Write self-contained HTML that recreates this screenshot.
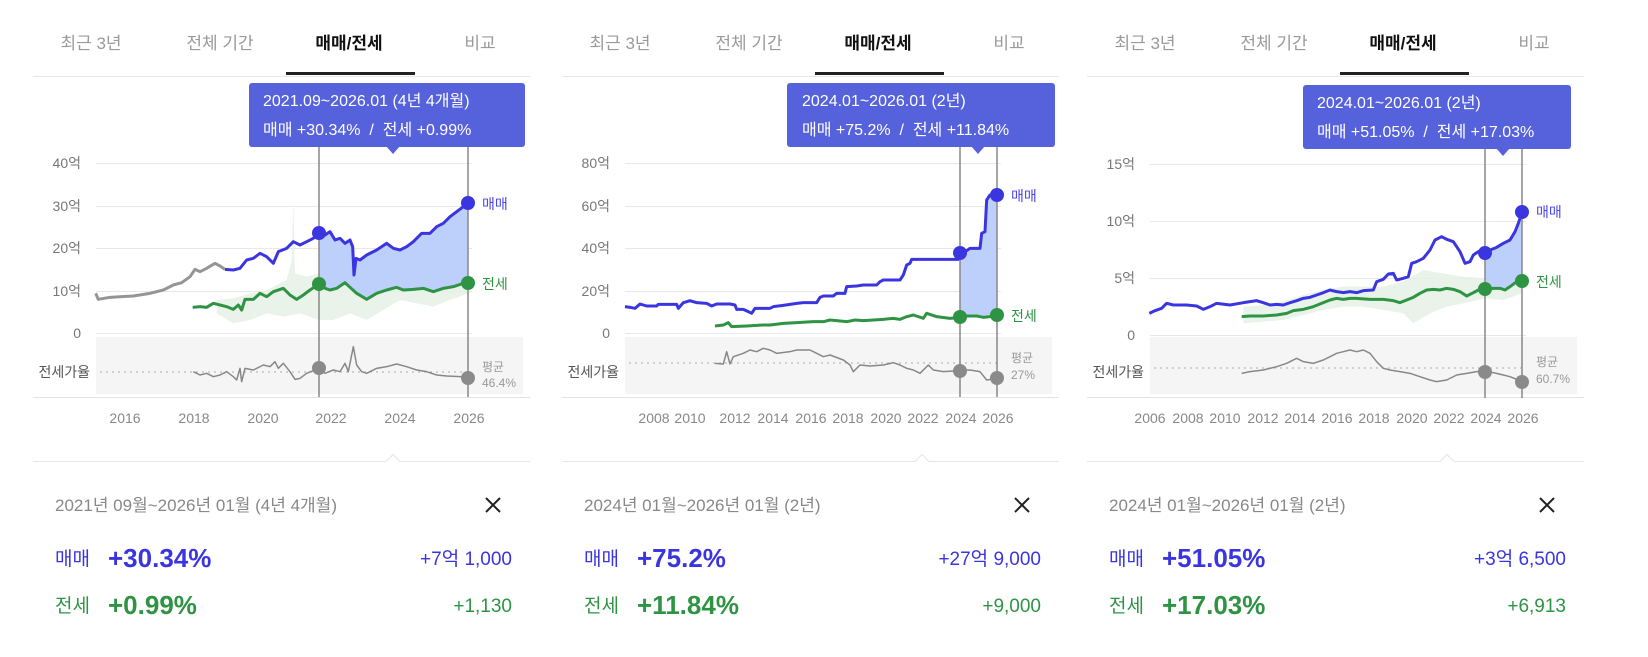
<!DOCTYPE html>
<html><head><meta charset="utf-8"><style>
html,body{margin:0;padding:0;background:#fff;width:1648px;height:657px;overflow:hidden}
svg{display:block;font-family:"Liberation Sans","Noto Sans CJK KR",sans-serif}
</style></head><body>
<svg width="1648" height="657" viewBox="0 0 1648 657" xmlns="http://www.w3.org/2000/svg">
<defs>
<g id="common">
  <g font-size="17" fill="#9a9a9a" text-anchor="middle">
    <text x="91" y="49">최근 3년</text>
    <text x="220" y="49">전체 기간</text>
    <text x="349" y="49" fill="#111" font-weight="bold">매매/전세</text>
    <text x="480" y="49">비교</text>
  </g>
  <rect x="286" y="72" width="129" height="3" fill="#222"/>
  <line x1="33" y1="76.5" x2="530" y2="76.5" stroke="#e6e6e6"/>
  <rect x="96" y="337" width="427" height="57" fill="#f5f5f5"/>
  <line x1="33" y1="397.5" x2="530" y2="397.5" stroke="#e3e3e3"/>
  <polyline points="33,461.5 386,461.5 393,454.5 400,461.5 530,461.5" fill="none" stroke="#e6e6e6"/>
  <g stroke="#222" stroke-width="2"><line x1="486" y1="498" x2="500" y2="512"/><line x1="500" y1="498" x2="486" y2="512"/></g>
  <text x="90" y="377" font-size="14" fill="#555" text-anchor="end">전세가율</text>
</g>
</defs>

<!-- ===== PANEL 1 ===== -->
<g>
  <use href="#common"/>
  <g stroke="#e8e8e8"><line x1="96" y1="163.5" x2="472" y2="163.5"/><line x1="96" y1="206.5" x2="472" y2="206.5"/><line x1="96" y1="248.5" x2="472" y2="248.5"/><line x1="96" y1="291.5" x2="472" y2="291.5"/><line x1="96" y1="333.5" x2="472" y2="333.5"/></g>
  <g font-size="14" fill="#777" text-anchor="end"><text x="81" y="168">40억</text><text x="81" y="211">30억</text><text x="81" y="253">20억</text><text x="81" y="296">10억</text><text x="81" y="338">0</text></g>
  <line x1="100" y1="372" x2="470" y2="372" stroke="#aaa" stroke-dasharray="2,4"/>
  <g font-size="14" fill="#888" text-anchor="middle"><text x="125" y="423">2016</text><text x="194" y="423">2018</text><text x="263" y="423">2020</text><text x="331" y="423">2022</text><text x="400" y="423">2024</text><text x="469" y="423">2026</text></g>
  <g transform="translate(0,60) scale(0.333333)">
    <polygon fill="#e3f0e3" opacity="0.8" points="650,720 700,715 750,700 800,690 860,660 875,600 880,425 885,640 920,650 957,640 1000,640 1050,650 1100,680 1150,665 1200,655 1250,640 1300,620 1350,640 1405,650 1405,700 1350,720 1300,740 1250,730 1200,720 1150,750 1100,780 1050,760 1000,780 957,780 900,760 850,770 800,760 750,780 700,790 650,760"/>
    <polygon fill="#bcd0fb" points="957,518 975,525 990,515 1005,540 1020,535 1035,550 1050,540 1058,560 1062,645 1068,595 1080,600 1100,585 1130,570 1160,550 1180,565 1200,570 1220,560 1240,545 1265,520 1290,520 1310,500 1330,490 1350,470 1370,455 1390,440 1405,430 1405,668 1390,670 1360,680 1330,685 1300,695 1270,685 1240,688 1210,690 1190,682 1160,690 1130,700 1100,718 1070,700 1050,682 1035,668 1010,685 990,690 975,685 957,672"/>
    <polyline fill="none" stroke="#959595" stroke-width="9" stroke-linejoin="round" points="287,700 295,718 330,712 400,708 450,700 490,690 520,675 545,668 570,650 585,628 600,635 620,625 645,610 660,618 675,628"/>
    <polyline fill="none" stroke="#3b35e0" stroke-width="9" stroke-linejoin="round" points="675,628 700,630 720,625 740,600 760,595 780,580 800,590 820,610 835,575 860,565 880,545 900,555 920,545 940,535 957,518 975,525 990,515 1005,540 1020,535 1035,550 1050,540 1058,560 1062,645 1068,595 1080,600 1100,585 1130,570 1160,550 1180,565 1200,570 1220,560 1240,545 1265,520 1290,520 1310,500 1330,490 1350,470 1370,455 1390,440 1405,430"/>
    <polyline fill="none" stroke="#2e9444" stroke-width="9" stroke-linejoin="round" points="578,742 600,740 620,742 640,730 660,735 680,740 700,748 715,735 725,750 735,718 760,718 780,700 800,710 820,695 850,685 870,705 890,718 910,705 930,690 957,672 975,685 990,690 1010,685 1035,668 1050,682 1070,700 1100,718 1130,700 1160,690 1190,682 1210,690 1240,688 1270,685 1300,695 1330,685 1360,680 1390,670 1405,668"/>
    <polyline fill="none" stroke="#888" stroke-width="4.5" stroke-linejoin="round" points="580,935 600,945 620,940 640,950 660,945 680,935 700,950 710,960 720,925 725,965 735,925 760,930 790,915 810,920 825,905 835,925 850,910 870,935 885,958 900,955 920,940 957,925 975,940 1000,930 1020,935 1035,910 1045,935 1060,860 1070,915 1085,935 1100,940 1130,925 1160,920 1190,912 1220,920 1250,930 1280,935 1310,945 1340,948 1380,950 1405,952"/>
  </g>
  <g stroke="#888" stroke-width="1.5"><line x1="319" y1="147" x2="319" y2="397"/><line x1="468" y1="147" x2="468" y2="397"/></g>
  <circle cx="319" cy="233" r="7" fill="#3b35e0"/><circle cx="468" cy="203" r="7" fill="#3b35e0"/>
  <circle cx="319" cy="284" r="7" fill="#2e9444"/><circle cx="468" cy="283" r="7" fill="#2e9444"/>
  <circle cx="319" cy="368" r="7" fill="#8a8a8a"/><circle cx="468" cy="378" r="7" fill="#8a8a8a"/>
  <g font-size="14"><text x="482" y="209" fill="#4a44e6">매매</text><text x="482" y="289" fill="#2e9444">전세</text><text x="482" y="371" fill="#999" font-size="12">평균</text><text x="482" y="387" fill="#999" font-size="12">46.4%</text></g>
  <rect x="249" y="83" width="276" height="64" rx="3" fill="#5661dc"/>
  <polygon points="386,146 400,146 393,154" fill="#5661dc"/>
  <g fill="#fff" font-size="16"><text x="263" y="106">2021.09~2026.01 (4년 4개월)</text><text x="263" y="135">매매 +30.34% &#160;/&#160; 전세 +0.99%</text></g>
  <text x="55" y="511" font-size="17" fill="#888">2021년 09월~2026년 01월 (4년 4개월)</text>
  <text x="55" y="565" font-size="19" fill="#3b35e0">매매</text>
  <text x="108" y="567" font-size="26" font-weight="bold" fill="#3b35e0">+30.34%</text>
  <text x="512" y="565" font-size="19" fill="#3b35e0" text-anchor="end">+7억 1,000</text>
  <text x="55" y="612" font-size="19" fill="#2e9444">전세</text>
  <text x="108" y="614" font-size="26" font-weight="bold" fill="#2e9444">+0.99%</text>
  <text x="512" y="612" font-size="19" fill="#2e9444" text-anchor="end">+1,130</text>
</g>

<!-- ===== PANEL 2 ===== -->
<g transform="translate(529,0)">
  <use href="#common"/>
  <g stroke="#e8e8e8"><line x1="96" y1="163.5" x2="472" y2="163.5"/><line x1="96" y1="206.5" x2="472" y2="206.5"/><line x1="96" y1="248.5" x2="472" y2="248.5"/><line x1="96" y1="291.5" x2="472" y2="291.5"/><line x1="96" y1="333.5" x2="472" y2="333.5"/></g>
  <g font-size="14" fill="#777" text-anchor="end"><text x="81" y="168">80억</text><text x="81" y="211">60억</text><text x="81" y="253">40억</text><text x="81" y="296">20억</text><text x="81" y="338">0</text></g>
  <line x1="100" y1="363" x2="470" y2="363" stroke="#aaa" stroke-dasharray="2,4"/>
  <g font-size="14" fill="#888" text-anchor="middle"><text x="125" y="423">2008</text><text x="161" y="423">2010</text><text x="206" y="423">2012</text><text x="244" y="423">2014</text><text x="282" y="423">2016</text><text x="319" y="423">2018</text><text x="357" y="423">2020</text><text x="394" y="423">2022</text><text x="432" y="423">2024</text><text x="469" y="423">2026</text></g>
  <g transform="translate(1,60) scale(0.333333)">
    <polygon fill="#bcd0fb" points="1290,580 1310,572 1320,565 1350,565 1355,520 1365,515 1370,420 1380,405 1402,405 1402,765 1380,770 1360,772 1340,768 1310,768 1290,772"/>
    <polyline fill="none" stroke="#3b35e0" stroke-width="9" stroke-linejoin="round" points="285,740 300,742 315,745 330,732 350,738 380,738 385,733 440,733 445,745 460,728 480,722 500,728 530,730 545,738 560,732 600,732 615,735 620,748 640,748 655,755 665,760 675,745 720,745 730,740 760,736 780,733 800,730 820,728 860,728 870,712 880,708 910,708 920,700 945,700 950,680 980,678 1000,675 1040,675 1050,665 1060,660 1110,660 1120,645 1130,615 1140,610 1145,598 1200,598 1285,598 1290,580 1310,572 1320,565 1350,565 1355,520 1365,515 1370,420 1380,405 1402,405"/>
    <polyline fill="none" stroke="#2e9444" stroke-width="9" stroke-linejoin="round" points="555,798 580,795 595,788 605,800 650,798 700,795 720,795 760,790 800,788 850,785 880,785 900,780 950,785 975,780 1000,782 1060,778 1090,775 1110,778 1130,770 1150,765 1180,775 1190,760 1220,770 1260,775 1290,772 1310,768 1340,768 1360,772 1380,770 1402,765"/>
    <polyline fill="none" stroke="#888" stroke-width="4.5" stroke-linejoin="round" points="555,910 580,912 590,875 600,912 610,890 640,880 660,870 680,875 700,865 720,870 740,880 780,875 800,870 840,870 860,880 880,890 900,885 940,900 960,915 970,935 990,915 1020,918 1060,915 1090,908 1110,915 1130,925 1150,930 1170,940 1195,915 1210,930 1240,935 1290,932 1320,930 1350,935 1370,960 1402,955"/>
  </g>
  <g stroke="#888" stroke-width="1.5"><line x1="431" y1="147" x2="431" y2="397"/><line x1="468" y1="147" x2="468" y2="397"/></g>
  <circle cx="431" cy="253" r="7" fill="#3b35e0"/><circle cx="468" cy="195" r="7" fill="#3b35e0"/>
  <circle cx="431" cy="317" r="7" fill="#2e9444"/><circle cx="468" cy="315" r="7" fill="#2e9444"/>
  <circle cx="431" cy="371" r="7" fill="#8a8a8a"/><circle cx="468" cy="378" r="7" fill="#8a8a8a"/>
  <g font-size="14"><text x="482" y="201" fill="#4a44e6">매매</text><text x="482" y="321" fill="#2e9444">전세</text><text x="482" y="362" fill="#999" font-size="12">평균</text><text x="482" y="379" fill="#999" font-size="12">27%</text></g>
  <rect x="258" y="83" width="268" height="64" rx="3" fill="#5661dc"/>
  <polygon points="442,146 456,146 449,154" fill="#5661dc"/>
  <g fill="#fff" font-size="16"><text x="273" y="106">2024.01~2026.01 (2년)</text><text x="273" y="135">매매 +75.2% &#160;/&#160; 전세 +11.84%</text></g>
  <text x="55" y="511" font-size="17" fill="#888">2024년 01월~2026년 01월 (2년)</text>
  <text x="55" y="565" font-size="19" fill="#3b35e0">매매</text>
  <text x="108" y="567" font-size="26" font-weight="bold" fill="#3b35e0">+75.2%</text>
  <text x="512" y="565" font-size="19" fill="#3b35e0" text-anchor="end">+27억 9,000</text>
  <text x="55" y="612" font-size="19" fill="#2e9444">전세</text>
  <text x="108" y="614" font-size="26" font-weight="bold" fill="#2e9444">+11.84%</text>
  <text x="512" y="612" font-size="19" fill="#2e9444" text-anchor="end">+9,000</text>
</g>

<!-- ===== PANEL 3 ===== -->
<g transform="translate(1054,0)">
  <use href="#common"/>
  <g stroke="#e8e8e8"><line x1="96" y1="164.5" x2="472" y2="164.5"/><line x1="96" y1="221.5" x2="472" y2="221.5"/><line x1="96" y1="278.5" x2="472" y2="278.5"/><line x1="96" y1="335.5" x2="472" y2="335.5"/></g>
  <g font-size="14" fill="#777" text-anchor="end"><text x="81" y="169">15억</text><text x="81" y="226">10억</text><text x="81" y="283">5억</text><text x="81" y="340">0</text></g>
  <line x1="100" y1="368" x2="470" y2="368" stroke="#aaa" stroke-dasharray="2,4"/>
  <g font-size="14" fill="#888" text-anchor="middle"><text x="96" y="423">2006</text><text x="134" y="423">2008</text><text x="171" y="423">2010</text><text x="209" y="423">2012</text><text x="246" y="423">2014</text><text x="283" y="423">2016</text><text x="320" y="423">2018</text><text x="358" y="423">2020</text><text x="395" y="423">2022</text><text x="432" y="423">2024</text><text x="469" y="423">2026</text></g>
  <g transform="translate(-24,60) scale(0.333333)">
    <polygon fill="#e3f0e3" opacity="0.8" points="640,740 700,735 760,725 820,705 880,690 940,680 1000,680 1060,680 1120,665 1180,630 1240,640 1300,650 1365,655 1420,650 1476,640 1476,700 1420,720 1365,715 1300,730 1250,740 1200,760 1150,790 1120,760 1060,750 1000,740 940,740 880,750 820,765 760,780 700,785 640,790"/>
    <polygon fill="#bcd0fb" points="1365,580 1380,570 1400,562 1420,550 1440,540 1455,515 1465,490 1476,457 1476,662 1460,665 1440,680 1425,690 1410,685 1390,685 1365,688"/>
    <polyline fill="none" stroke="#3b35e0" stroke-width="9" stroke-linejoin="round" points="358,760 375,752 395,745 410,730 430,735 470,735 500,738 520,748 540,740 560,730 600,735 640,728 680,722 700,728 720,735 740,733 760,735 780,728 800,722 820,715 840,712 860,705 880,698 900,690 920,695 940,698 960,695 980,698 1000,692 1030,690 1040,665 1060,658 1075,642 1090,640 1100,660 1120,655 1135,650 1145,610 1160,605 1180,595 1200,570 1215,540 1235,530 1250,538 1270,545 1290,575 1305,610 1320,605 1330,585 1345,575 1365,580 1380,570 1400,562 1420,550 1440,540 1455,515 1465,490 1476,457"/>
    <polyline fill="none" stroke="#2e9444" stroke-width="9" stroke-linejoin="round" points="635,770 660,768 700,768 740,765 770,760 790,752 820,748 850,740 880,728 900,720 920,715 940,718 960,715 980,715 1020,718 1060,718 1090,722 1110,728 1130,720 1150,712 1170,700 1190,690 1210,688 1230,690 1250,685 1270,688 1290,695 1310,708 1330,698 1345,690 1365,688 1390,685 1410,685 1425,690 1440,680 1460,665 1476,662"/>
    <polyline fill="none" stroke="#888" stroke-width="4.5" stroke-linejoin="round" points="635,940 660,935 700,930 740,920 770,910 800,895 820,905 850,910 880,900 900,890 920,880 940,875 960,870 980,875 1000,870 1020,880 1040,905 1060,925 1080,930 1110,935 1140,940 1170,950 1200,960 1220,965 1250,960 1280,945 1310,940 1340,935 1365,935 1390,938 1420,945 1440,950 1460,958 1476,965"/>
  </g>
  <g stroke="#888" stroke-width="1.5"><line x1="431" y1="147" x2="431" y2="398"/><line x1="468" y1="147" x2="468" y2="398"/></g>
  <circle cx="431" cy="253" r="7" fill="#3b35e0"/><circle cx="468" cy="212" r="7" fill="#3b35e0"/>
  <circle cx="431" cy="289" r="7" fill="#2e9444"/><circle cx="468" cy="281" r="7" fill="#2e9444"/>
  <circle cx="431" cy="372" r="7" fill="#8a8a8a"/><circle cx="468" cy="382" r="7" fill="#8a8a8a"/>
  <g font-size="14"><text x="482" y="217" fill="#4a44e6">매매</text><text x="482" y="287" fill="#2e9444">전세</text><text x="482" y="366" fill="#999" font-size="12">평균</text><text x="482" y="383" fill="#999" font-size="12">60.7%</text></g>
  <rect x="249" y="85" width="268" height="64" rx="3" fill="#5661dc"/>
  <polygon points="442,148 456,148 449,156" fill="#5661dc"/>
  <g fill="#fff" font-size="16"><text x="263" y="108">2024.01~2026.01 (2년)</text><text x="263" y="137">매매 +51.05% &#160;/&#160; 전세 +17.03%</text></g>
  <text x="55" y="511" font-size="17" fill="#888">2024년 01월~2026년 01월 (2년)</text>
  <text x="55" y="565" font-size="19" fill="#3b35e0">매매</text>
  <text x="108" y="567" font-size="26" font-weight="bold" fill="#3b35e0">+51.05%</text>
  <text x="512" y="565" font-size="19" fill="#3b35e0" text-anchor="end">+3억 6,500</text>
  <text x="55" y="612" font-size="19" fill="#2e9444">전세</text>
  <text x="108" y="614" font-size="26" font-weight="bold" fill="#2e9444">+17.03%</text>
  <text x="512" y="612" font-size="19" fill="#2e9444" text-anchor="end">+6,913</text>
</g>
</svg>
</body></html>
